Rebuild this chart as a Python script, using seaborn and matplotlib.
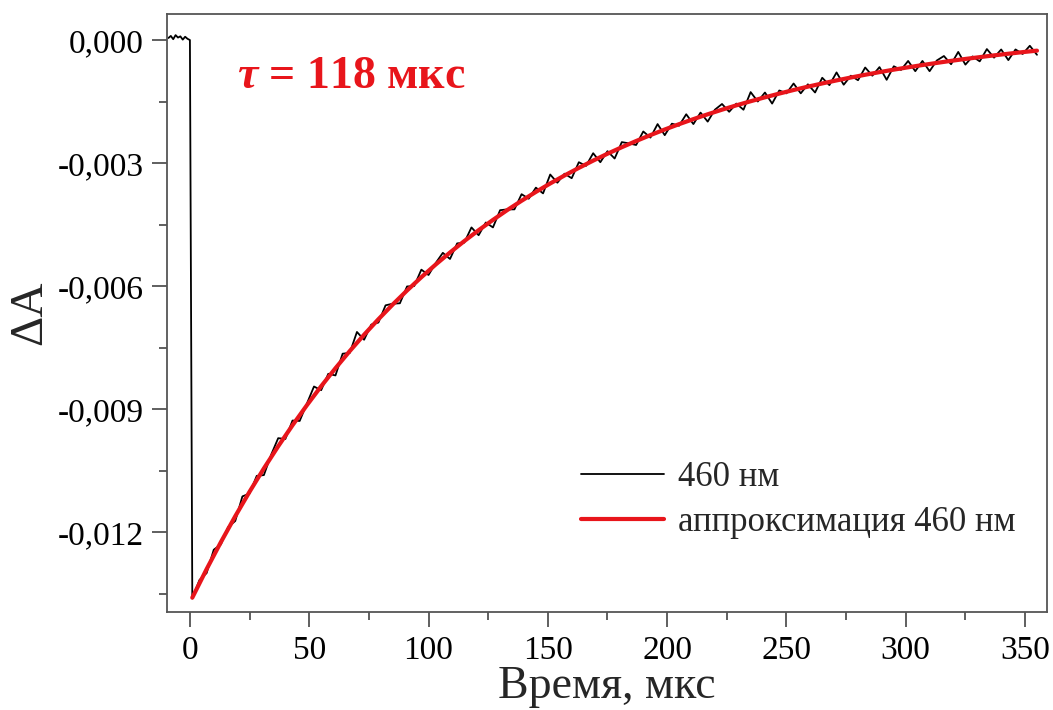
import numpy as np
import pandas as pd
import matplotlib
matplotlib.use("Agg")
import matplotlib.pyplot as plt
from matplotlib.ticker import FuncFormatter, MultipleLocator
import seaborn as sns

# ΔA values are given in units of 1e-3
pre_t = [-9, -8, -7, -6, -5, -4, -3, -2, -1, 0]
pre_dA = [0.05, 0.10, 0.02, 0.12, 0.06, 0.09, 0.01, 0.08, 0.03, 0.00]

# measured trace 460 nm, sampled every 3 mks starting at 1 mks
trace_dA = [
    -13.62, -13.17, -13.00, -12.43, -12.30, -11.88, -11.73, -11.13, -11.06, -10.63,
    -10.61, -10.12, -9.71, -9.73, -9.28, -9.29, -8.87, -8.45, -8.54, -8.14,
    -8.18, -7.65, -7.63, -7.12, -7.31, -6.94, -6.89, -6.47, -6.43, -6.42,
    -6.01, -6.00, -5.60, -5.73, -5.44, -5.19, -5.34, -4.96, -4.94, -4.57,
    -4.76, -4.45, -4.57, -4.15, -4.13, -4.13, -3.76, -3.87, -3.60, -3.74,
    -3.28, -3.48, -3.26, -3.37, -2.98, -3.07, -2.76, -2.98, -2.71, -2.89,
    -2.49, -2.52, -2.56, -2.23, -2.38, -2.05, -2.32, -2.04, -2.09, -1.81,
    -2.05, -1.77, -1.99, -1.70, -1.56, -1.75, -1.55, -1.70, -1.27, -1.50,
    -1.28, -1.55, -1.23, -1.30, -1.06, -1.30, -1.08, -1.28, -0.92, -1.10,
    -0.79, -1.09, -0.87, -0.98, -0.67, -0.87, -0.66, -0.97, -0.64, -0.73,
    -0.51, -0.76, -0.51, -0.76, -0.50, -0.39, -0.59, -0.29, -0.60, -0.40,
    -0.52, -0.22, -0.43, -0.23, -0.49, -0.23, -0.34, -0.14, -0.36,
]

# fitted curve, every 6 mks starting at 1 mks
fit_dA = [
    -13.600, -12.904, -12.243, -11.614, -11.016, -10.448, -9.908, -9.395, -8.908, -8.444,
    -8.004, -7.585, -7.187, -6.809, -6.450, -6.108, -5.784, -5.475, -5.182, -4.903,
    -4.638, -4.387, -4.147, -3.920, -3.704, -3.498, -3.303, -3.118, -2.941, -2.773,
    -2.614, -2.463, -2.319, -2.182, -2.052, -1.929, -1.811, -1.699, -1.593, -1.493,
    -1.397, -1.306, -1.219, -1.137, -1.059, -0.985, -0.914, -0.847, -0.783, -0.722,
    -0.665, -0.610, -0.558, -0.508, -0.461, -0.417, -0.374, -0.334, -0.295, -0.259,
]

t_trace = np.concatenate([pre_t, np.arange(1, 356, 3)])
y_trace = np.concatenate([pre_dA, trace_dA]) * 1e-3
t_fit = np.arange(1, 356, 6)
y_fit = np.array(fit_dA) * 1e-3

df_trace = pd.DataFrame({"t": t_trace, "dA": y_trace})
df_fit = pd.DataFrame({"t": t_fit, "dA": y_fit})

sns.set_theme(style="ticks")
plt.rcParams["font.family"] = ["Liberation Serif", "DejaVu Serif"]
plt.rcParams["mathtext.fontset"] = "custom"
plt.rcParams["mathtext.it"] = "Liberation Serif:italic:bold"
plt.rcParams["mathtext.rm"] = "Liberation Serif:bold"

fig = plt.figure(figsize=(10.53, 7.10), dpi=100)
ax = fig.add_axes([0.1586, 0.138, 0.8357, 0.842])

red = "#e8151b"
sns.lineplot(data=df_trace, x="t", y="dA", ax=ax, color="black", lw=1.3,
             label="460 нм", sort=False)
sns.lineplot(data=df_fit, x="t", y="dA", ax=ax, color=red, lw=3.0,
             label="аппроксимация 460 нм", sort=False)

ax.set_xlim(-9.6, 359.2)
ax.set_ylim(-0.01395, 0.00063)

ax.xaxis.set_major_locator(MultipleLocator(50))
ax.xaxis.set_minor_locator(MultipleLocator(25))
ax.yaxis.set_major_locator(MultipleLocator(0.003))
ax.yaxis.set_minor_locator(MultipleLocator(0.0015))
ax.yaxis.set_major_formatter(FuncFormatter(lambda v, p: f"{v:.3f}".replace(".", ",").replace("-0,000", "0,000")))

ax.tick_params(which="major", direction="out", length=11, width=1.2, colors="#444444",
               labelsize=24, labelcolor="black", pad=6)
ax.tick_params(which="minor", direction="out", length=6, width=1.2, colors="#444444")
for s in ax.spines.values():
    s.set_color("#555555")
    s.set_linewidth(1.3)

ax.set_xlabel("Время, мкс", fontsize=33)
ax.xaxis.set_label_coords(0.5, -0.089)
ax.set_ylabel("ΔA", fontsize=34, labelpad=4)

ax.text(0.08, 0.895, r"$\tau$ = 118 мкс", transform=ax.transAxes, color=red,
        fontsize=33, fontweight="bold", va="center")

ax.legend(loc="lower right", bbox_to_anchor=(1.0, 0.07), frameon=False, fontsize=25,
          handlelength=2.4, handletextpad=0.4, labelspacing=0.35)

fig.savefig("out.png", dpi=100)
